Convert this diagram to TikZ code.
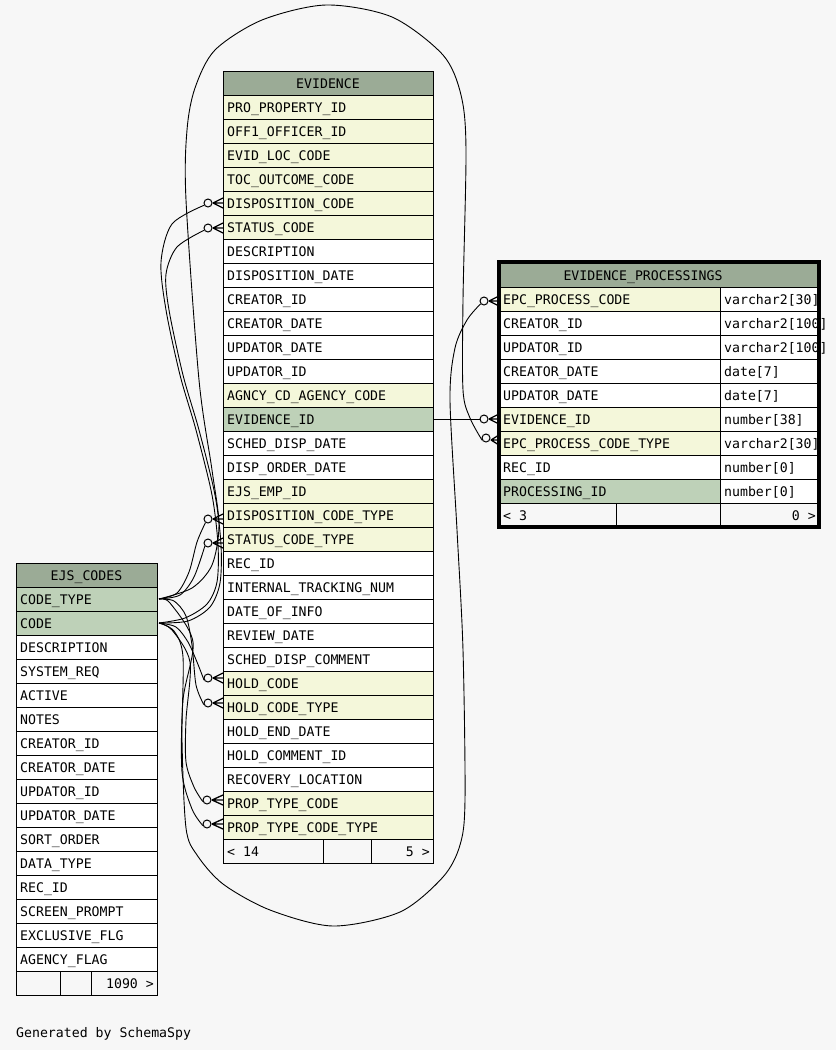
\documentclass[tikz,border=0pt]{standalone}
\usepackage{fontspec}
\setmonofont{DejaVu Sans Mono}
\definecolor{bg}{HTML}{F7F7F7}
\definecolor{hdr}{HTML}{9BAB96}
\definecolor{fk}{HTML}{F4F7DA}
\definecolor{pk}{HTML}{BED1B8}
\definecolor{wt}{HTML}{FFFFFF}
\newcommand\crowfoot[3]{\draw[cf] (#1,#3) -- (#2,#3-5) (#1,#3) -- (#2,#3) (#1,#3) -- (#2,#3+5);}
\begin{document}
\begin{tikzpicture}[x=1pt,y=-1pt,
  cell/.style={draw=black, line width=1pt},
  txt/.style={font=\ttfamily\fontsize{13.2}{14}\selectfont, inner sep=0pt, anchor=base west},
  rtxt/.style={txt, anchor=base east},
  htxt/.style={txt, anchor=base},
  circ/.style={circle, draw=black, fill=bg, minimum size=8pt, inner sep=0pt, line width=1pt},
  cf/.style={line width=1.3pt},
  conn/.style={line width=0.9pt}]
\useasboundingbox (0,0) rectangle (836,1050);
\fill[bg] (0,0) rectangle (836,1050);

% ---------- EVIDENCE ----------
\draw[cell, fill=hdr] (223,71) rectangle (433,95);
\node[htxt] (evh) at (328,88.5) {EVIDENCE};
\foreach \c/\t [count=\i from 0] in {fk/PRO\_PROPERTY\_ID, fk/OFF1\_OFFICER\_ID, fk/EVID\_LOC\_CODE, fk/TOC\_OUTCOME\_CODE, fk/DISPOSITION\_CODE, fk/STATUS\_CODE, wt/DESCRIPTION, wt/DISPOSITION\_DATE, wt/CREATOR\_ID, wt/CREATOR\_DATE, wt/UPDATOR\_DATE, wt/UPDATOR\_ID, fk/AGNCY\_CD\_AGENCY\_CODE, pk/EVIDENCE\_ID, wt/SCHED\_DISP\_DATE, wt/DISP\_ORDER\_DATE, fk/EJS\_EMP\_ID, fk/DISPOSITION\_CODE\_TYPE, fk/STATUS\_CODE\_TYPE, wt/REC\_ID, wt/INTERNAL\_TRACKING\_NUM, wt/DATE\_OF\_INFO, wt/REVIEW\_DATE, wt/SCHED\_DISP\_COMMENT, fk/HOLD\_CODE, fk/HOLD\_CODE\_TYPE, wt/HOLD\_END\_DATE, wt/HOLD\_COMMENT\_ID, wt/RECOVERY\_LOCATION, fk/PROP\_TYPE\_CODE, fk/PROP\_TYPE\_CODE\_TYPE} {
  \draw[cell, fill=\c] (223,95+24*\i) rectangle (433,119+24*\i);
  \node[txt] (ev\i) at (227,112.5+24*\i) {\t};
}
\draw[cell] (223,839) rectangle (433,863) (323,839) -- (323,863) (371,839) -- (371,863);
\node[txt] (evfl) at (227,856.5) {< 14};
\node[rtxt] (evfr) at (430,856.5) {5 >};

% ---------- EJS_CODES ----------
\draw[cell, fill=hdr] (16,563) rectangle (157,587);
\node[htxt] (ejh) at (86.5,580.5) {EJS\_CODES};
\foreach \c/\t [count=\i from 0] in {pk/CODE\_TYPE, pk/CODE, wt/DESCRIPTION, wt/SYSTEM\_REQ, wt/ACTIVE, wt/NOTES, wt/CREATOR\_ID, wt/CREATOR\_DATE, wt/UPDATOR\_ID, wt/UPDATOR\_DATE, wt/SORT\_ORDER, wt/DATA\_TYPE, wt/REC\_ID, wt/SCREEN\_PROMPT, wt/EXCLUSIVE\_FLG, wt/AGENCY\_FLAG} {
  \draw[cell, fill=\c] (16,587+24*\i) rectangle (157,611+24*\i);
  \node[txt] (ej\i) at (20,604.5+24*\i) {\t};
}
\draw[cell] (16,971) rectangle (157,995) (60,971) -- (60,995) (91,971) -- (91,995);
\node[rtxt] (ejfr) at (154,988.5) {1090 >};

% ---------- EVIDENCE_PROCESSINGS ----------
\fill[hdr] (499,262) rectangle (819,287);
\node[htxt] (eph) at (643,280.5) {EVIDENCE\_PROCESSINGS};
\foreach \c/\t/\ty [count=\i from 0] in {fk/EPC\_PROCESS\_CODE/varchar2[30], wt/CREATOR\_ID/varchar2[100], wt/UPDATOR\_ID/varchar2[100], wt/CREATOR\_DATE/date[7], wt/UPDATOR\_DATE/date[7], fk/EVIDENCE\_ID/number[38], fk/EPC\_PROCESS\_CODE\_TYPE/varchar2[30], wt/REC\_ID/number[0], pk/PROCESSING\_ID/number[0]} {
  \draw[cell, fill=\c] (499,287+24*\i) rectangle (720,311+24*\i);
  \draw[cell, fill=wt] (720,287+24*\i) rectangle (819,311+24*\i);
  \node[txt] (ep\i) at (503,304.5+24*\i) {\t};
  \node[txt] (ept\i) at (724,304.5+24*\i) {\ty};
}
\draw[cell] (499,503) -- (819,503) (616,503) -- (616,527) (720,503) -- (720,527);
\node[txt] (epfl) at (503,520.5) {< 3};
\node[rtxt] (epfr) at (816,520.5) {0 >};
\draw[line width=3.5pt] (499,262) rectangle (819,527);
\draw[cell] (499,287) -- (819,287);

% ---------- anchors ----------
\coordinate (ct) at (159,599);
\coordinate (co) at (159,623);
\coordinate (evid) at (433,419);

\node[circ] (k1) at (208,203) {};
\node[circ] (k2) at (208,228) {};
\node[circ] (k3) at (208,519) {};
\node[circ] (k4) at (208,543) {};
\node[circ] (k5) at (208,678) {};
\node[circ] (k6) at (208,703) {};
\node[circ] (k7) at (207,800) {};
\node[circ] (k8) at (207,824) {};
\node[circ] (q1) at (484,301) {};
\node[circ] (q2) at (484,419) {};
\node[circ] (q3) at (486,438) {};

% ---------- connectors ----------
\begin{scope}[conn]
\draw plot[smooth] coordinates {(co) (185,618) (207,604) (217,582) (218,545) (212,495) (196,430) (180,375) (166,310) (161,262) (172,224) (k1.210)};
\draw plot[smooth] coordinates {(co) (188,621) (210,607) (220,583) (221,545) (215,495) (199,430) (183,375) (169,310) (166,274) (177,247) (k2.210)};
\draw plot[smooth] coordinates {(ct) (177,593) (189,572) (197,542) (k3.235)};
\draw plot[smooth] coordinates {(ct) (180,595) (194,577) (k4.225)};
\draw plot[smooth] coordinates {(co) (176,627) (188,642) (197,662) (k5.210)};
\draw plot[smooth] coordinates {(ct) (174,601) (186,616) (192,645) (196,685) (k6.200)};
\draw plot[smooth] coordinates {(co) (172,630) (190,662) (186,720) (186,762) (194,787) (k7.200)};
\draw plot[smooth] coordinates {(ct) (170,603) (193,642) (183,700) (182,772) (192,809) (k8.200)};
\draw plot[smooth] coordinates {(ct) (192,588) (212,565) (219,525) (212,470) (199,380) (186,200) (187,130) (195,88) (215,50) (262,20) (326,5) (392,17) (443,55) (461,95) (466,150) (463,300) (463,390) (470,418) (q3.210)};
\draw plot[smooth] coordinates {(co) (174,631) (183,657) (182,740) (186,828) (197,855) (223,884) (270,910) (333,926) (400,912) (443,877) (460,845) (465,800) (463,650) (457,530) (450,400) (455,348) (467,320) (q1.220)};
\draw (evid) -- (q2.west);
\end{scope}

% ---------- crow's feet ----------
\crowfoot{213}{223}{203}
\crowfoot{213}{223}{228}
\crowfoot{213}{223}{519}
\crowfoot{213}{223}{543}
\crowfoot{213}{223}{678}
\crowfoot{213}{223}{703}
\crowfoot{212}{223}{800}
\crowfoot{212}{223}{824}
\crowfoot{489}{499}{301}
\crowfoot{489}{499}{419}
\crowfoot{491}{499}{440}

\node[txt] (gen) at (16,1037) {Generated by SchemaSpy};
\end{tikzpicture}
\end{document}
